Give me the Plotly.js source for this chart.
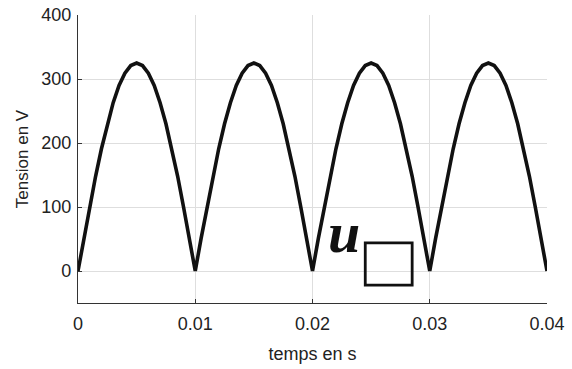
<!DOCTYPE html>
<html>
<head>
<meta charset="utf-8">
<script src="https://cdn.plot.ly/plotly-3.0.1.min.js"></script>
<style>html,body{margin:0;padding:0;background:#fff;}#chart{width:572px;height:369px;}</style>
</head>
<body>
<div id="chart"></div>
<script>
// time in seconds
const temps = [
  0, 0.0005, 0.001, 0.0015, 0.002, 0.0025, 0.003, 0.0035, 0.004, 0.0045,
  0.005, 0.0055, 0.006, 0.0065, 0.007, 0.0075, 0.008, 0.0085, 0.009, 0.0095,
  0.01, 0.0105, 0.011, 0.0115, 0.012, 0.0125, 0.013, 0.0135, 0.014, 0.0145,
  0.015, 0.0155, 0.016, 0.0165, 0.017, 0.0175, 0.018, 0.0185, 0.019, 0.0195,
  0.02, 0.0205, 0.021, 0.0215, 0.022, 0.0225, 0.023, 0.0235, 0.024, 0.0245,
  0.025, 0.0255, 0.026, 0.0265, 0.027, 0.0275, 0.028, 0.0285, 0.029, 0.0295,
  0.03, 0.0305, 0.031, 0.0315, 0.032, 0.0325, 0.033, 0.0335, 0.034, 0.0345,
  0.035, 0.0355, 0.036, 0.0365, 0.037, 0.0375, 0.038, 0.0385, 0.039, 0.0395,
  0.04
];
// voltage in volts
const tension = [
  0, 51, 100, 148, 191, 230, 263, 290, 309, 321,
  325, 321, 309, 290, 263, 230, 191, 148, 100, 51,
  0, 51, 100, 148, 191, 230, 263, 290, 309, 321,
  325, 321, 309, 290, 263, 230, 191, 148, 100, 51,
  0, 51, 100, 148, 191, 230, 263, 290, 309, 321,
  325, 321, 309, 290, 263, 230, 191, 148, 100, 51,
  0, 51, 100, 148, 191, 230, 263, 290, 309, 321,
  325, 321, 309, 290, 263, 230, 191, 148, 100, 51,
  0
];
const xTicks = [0, 0.01, 0.02, 0.03, 0.04];
const xTickLabels = ['0', '0.01', '0.02', '0.03', '0.04'];
const yTicks = [0, 100, 200, 300, 400];
const yTickLabels = ['0', '100', '200', '300', '400'];
const labelU = 'u';
const boxX = [0.0245, 0.0285];
const boxY = [-22, 44];

const trace = {
  x: temps, y: tension, type: 'scatter', mode: 'lines',
  line: {color: '#111', width: 3.6}, hoverinfo: 'skip'
};

const fontSans = 'Liberation Sans, Arial, sans-serif';
const layout = {
  width: 572, height: 369,
  margin: {l: 78, r: 25, t: 15, b: 66},
  paper_bgcolor: '#fff', plot_bgcolor: '#fff',
  showlegend: false,
  xaxis: {
    range: [0, 0.04], tickvals: xTicks, ticktext: xTickLabels,
    showgrid: true, gridcolor: '#dedede', gridwidth: 1, zeroline: false,
    showline: true, linecolor: '#333', linewidth: 1.2,
    ticks: 'inside', ticklen: 4, tickcolor: '#333',
    ticklabelstandoff: 4,
    tickfont: {family: fontSans, size: 18, color: '#222'},
    title: {text: 'temps en s', font: {family: fontSans, size: 18, color: '#222'}, standoff: 14}
  },
  yaxis: {
    range: [-50, 400], tickvals: yTicks, ticktext: yTickLabels,
    showgrid: true, gridcolor: '#dedede', gridwidth: 1, zeroline: false,
    showline: true, linecolor: '#333', linewidth: 1.2,
    ticks: 'inside', ticklen: 4, tickcolor: '#333',
    ticklabelstandoff: 2,
    tickfont: {family: fontSans, size: 18, color: '#222'},
    title: {text: 'Tension en V', font: {family: fontSans, size: 17, color: '#222'}, standoff: 8}
  },
  shapes: [{
    type: 'rect', xref: 'x', yref: 'y',
    x0: boxX[0], x1: boxX[1], y0: boxY[0], y1: boxY[1],
    line: {color: '#111', width: 2.8}, fillcolor: 'rgba(0,0,0,0)'
  }],
  annotations: [{
    x: 0.0227, y: 60, xref: 'x', yref: 'y', text: '<b><i>' + labelU + '</i></b>',
    showarrow: false, font: {family: 'Liberation Serif, serif', size: 58, color: '#111'}
  }]
};

Plotly.newPlot('chart', [trace], layout, {staticPlot: true, displayModeBar: false});
</script>
</body>
</html>
